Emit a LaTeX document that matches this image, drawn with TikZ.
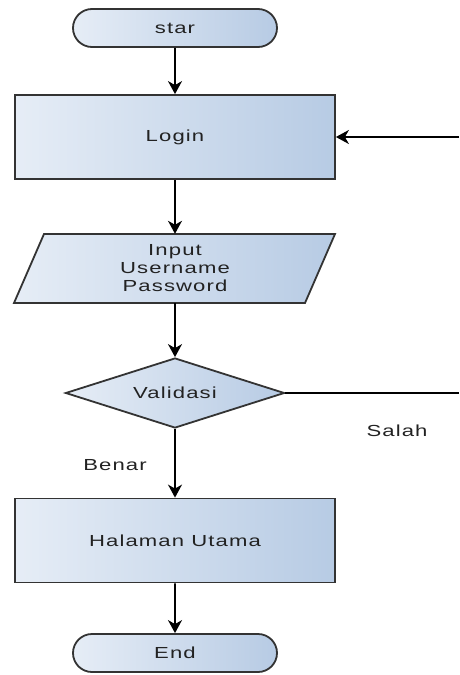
\documentclass[tikz,border=0pt]{standalone}
\usepackage{fontspec}
\newfontfamily\chartfont[FakeStretch=1.38,LetterSpace=7]{Liberation Sans}
\usetikzlibrary{shapes.misc,shapes.geometric,arrows.meta}

\definecolor{fillL}{HTML}{E6EDF6}
\definecolor{fillR}{HTML}{B7CBE4}
\definecolor{edge}{HTML}{333333}
\definecolor{ink}{HTML}{222222}

\tikzset{
  txt/.style={font=\chartfont\fontsize{16}{18}\selectfont, text=ink},
  boxbase/.style={draw=edge, line width=1.8pt, left color=fillL, right color=fillR,
    txt, inner sep=0pt, align=center},
  terminal/.style={boxbase, rounded rectangle, minimum width=204pt, minimum height=38pt},
  process/.style={boxbase, rectangle, minimum width=320pt, minimum height=84pt},
  decision/.style={boxbase, diamond, minimum width=219pt, minimum height=70pt, shape aspect=3.1},
  iotext/.style={txt, inner sep=0pt, align=center, minimum width=291pt, minimum height=69pt},
  flow/.style={line width=1.6pt, -{Stealth[length=13pt,width=14pt,inset=4pt]}},
  plain/.style={line width=1.3pt},
  lbl/.style={txt, inner sep=0pt}
}

\begin{document}
\begin{tikzpicture}[x=1pt,y=-1pt]
  \useasboundingbox[fill=white] (0,0) rectangle (459,675);

  \node[terminal] (start) at (175,28) {star};
  \node[process] (login) at (175,137) {Login};

  % input parallelogram: text node plus outline drawn from its corners
  \node[iotext] (input) at (175,268.5) {};
  \path[draw=edge, line width=1.8pt, left color=fillL, right color=fillR]
    (14,303) -- (305,303) -- (335,234) -- (44,234) -- cycle;
  \node[iotext] (inputtxt) at (input.center) {Input\\Username\\Password};

  \node[decision] (valid) at (175,393) {Validasi};
  \node[process] (home) at (175,540.5) {Halaman Utama};
  \node[terminal] (finish) at (175,653) {End};

  \coordinate (backin) at (459,137);
  \coordinate (backout) at (459,393);

  \draw[flow] (start) -- (login);
  \draw[flow] (login) -- (input.north);
  \draw[flow] (input.south) -- (valid.north);
  \draw[flow] (valid.south) -- (home.north);
  \draw[flow] (home) -- (finish);
  \draw[plain] (valid.east) -- (backout);
  \draw[flow] (backin) -- (login.east);

  \node[lbl] (salah) at (397,431) {Salah};
  \node[lbl] (benar) at (115,465) {Benar};
\end{tikzpicture}
\end{document}
